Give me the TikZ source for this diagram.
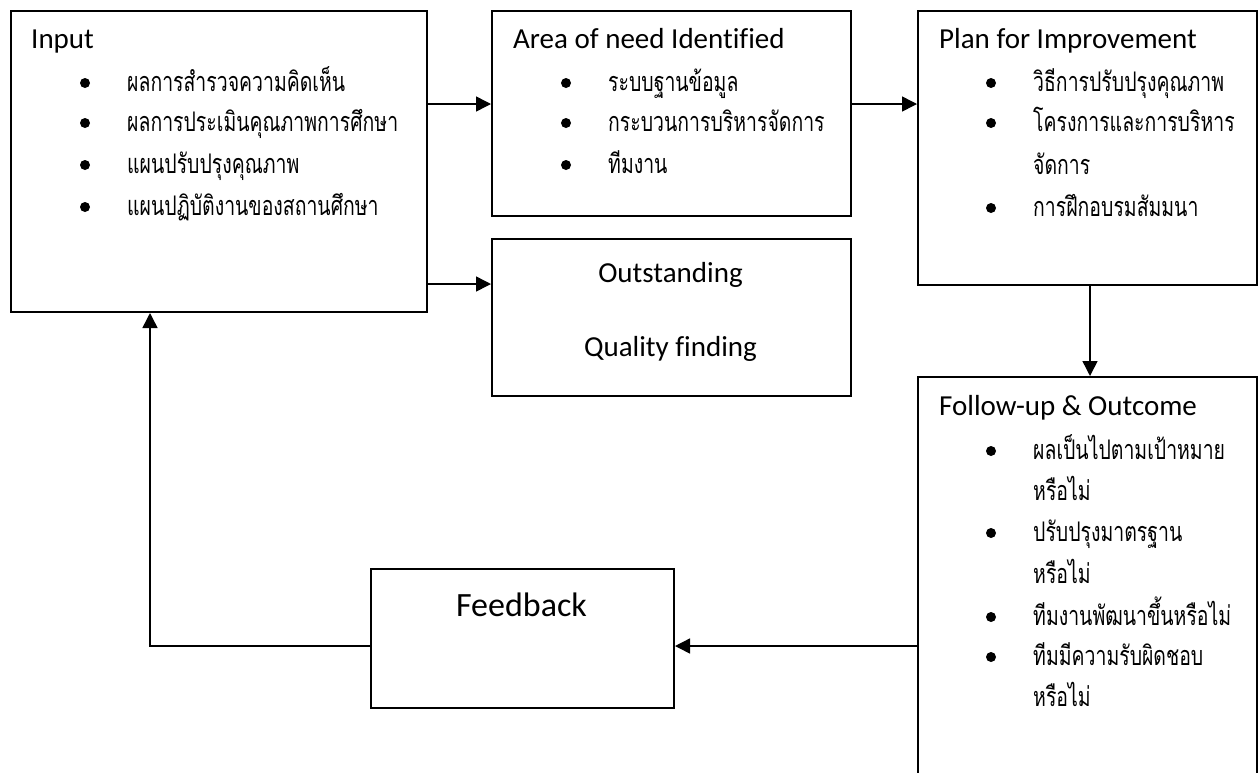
\documentclass[tikz,border=0pt]{standalone}
\usepackage{fontspec}
\setmainfont[Ligatures=NoCommon]{Carlito}
\newfontfamily\thaifont[Script=Thai,FakeStretch=0.72]{Loma}
\usetikzlibrary{arrows.meta}
\begin{document}
\begin{tikzpicture}[x=1pt,y=-1pt,
  box/.style={draw,line width=2pt,anchor=north west,inner sep=0pt},
  arr/.style={line width=1.5pt,-{Triangle[length=15pt,width=15pt]}},
  head/.style={anchor=base west,inner sep=0pt,font=\fontsize{29}{31}\selectfont},
  ctext/.style={anchor=base,inner sep=0pt,font=\fontsize{29}{31}\selectfont},
  th/.style={anchor=base west,inner sep=0pt,font=\thaifont\fontsize{27}{30}\selectfont},
  dot/.style={circle,fill=black,inner sep=0pt,minimum size=10pt}]
\clip (0,0) rectangle (1260,772);
\fill[white] (0,0) rectangle (1260,772);
% boxes
\node[box,minimum width=416pt,minimum height=301pt] (input) at (10,10) {};
\node[box,minimum width=359pt,minimum height=205pt] (area) at (491,10) {};
\node[box,minimum width=359pt,minimum height=157pt] (outst) at (491,238) {};
\node[box,minimum width=339pt,minimum height=274pt] (plan) at (917,10) {};
\node[box,minimum width=339pt,minimum height=430pt] (follow) at (917,376) {};
\node[box,minimum width=303pt,minimum height=139pt] (feedback) at (370,568) {};
% Input
\node[head] (tIn) at (31,48) {Input};
\node[dot] (b1) at (85,83) {};  \node[th] (t1) at (127,91) {ผลการสำรวจความคิดเห็น};
\node[dot] (b2) at (85,123) {}; \node[th] (t2) at (127,131) {ผลการประเมินคุณภาพการศึกษา};
\node[dot] (b3) at (85,165) {}; \node[th] (t3) at (127,173) {แผนปรับปรุงคุณภาพ};
\node[dot] (b4) at (85,207) {}; \node[th] (t4) at (127,215) {แผนปฏิบัติงานของสถานศึกษา};
% Area
\node[head] (tAr) at (513,48) {Area of need Identified};
\node[dot] (b5) at (566,83) {};  \node[th] (t5) at (608,91) {ระบบฐานข้อมูล};
\node[dot] (b6) at (566,123) {}; \node[th] (t6) at (608,131) {กระบวนการบริหารจัดการ};
\node[dot] (b7) at (566,165) {}; \node[th] (t7) at (608,173) {ทีมงาน};
% Outstanding
\node[ctext] (tO1) at (670.5,282) {Outstanding};
\node[ctext] (tO2) at (670.5,356) {Quality finding};
% Plan
\node[head] (tPl) at (939,48) {Plan for Improvement};
\node[dot] (b8) at (991,83) {};  \node[th] (t8) at (1033,91) {วิธีการปรับปรุงคุณภาพ};
\node[dot] (b9) at (991,123) {}; \node[th] (t9) at (1033,131) {โครงการและการบริหาร};
\node[th] (t9b) at (1033,174) {จัดการ};
\node[dot] (b10) at (991,208) {}; \node[th] (t10) at (1033,216) {การฝึกอบรมสัมมนา};
% Follow-up
\node[head] (tFo) at (939,415) {Follow-up \& Outcome};
\node[dot] (b11) at (991,451) {}; \node[th] (t11) at (1033,459) {ผลเป็นไปตามเป้าหมาย};
\node[th] (t11b) at (1033,500) {หรือไม่};
\node[dot] (b12) at (991,533) {}; \node[th] (t12) at (1033,541) {ปรับปรุงมาตรฐาน};
\node[th] (t12b) at (1033,583) {หรือไม่};
\node[dot] (b13) at (991,617) {}; \node[th] (t13) at (1033,625) {ทีมงานพัฒนาขึ้นหรือไม่};
\node[dot] (b14) at (991,657) {}; \node[th] (t14) at (1033,665) {ทีมมีความรับผิดชอบ};
\node[th] (t14b) at (1033,706) {หรือไม่};
% Feedback
\node[ctext,font=\fontsize{34}{36}\selectfont] (tFb) at (521.5,616) {Feedback};
% connectors
\draw[arr] ([yshift=-94pt]input.north east) -- ([yshift=-94pt]area.north west);
\draw[arr] ([yshift=-274pt]input.north east) -- ([yshift=-46pt]outst.north west);
\draw[arr] ([yshift=-94pt]area.north east) -- ([yshift=-94pt]plan.north west);
\draw[arr] ([xshift=2.5pt]plan.south) -- ([xshift=2.5pt]plan.south |- follow.north);
\draw[arr] ([yshift=-270pt]follow.north west) -- ([yshift=-78pt]feedback.north east);
\draw[arr] ([yshift=-78pt]feedback.north west) -| ([xshift=140pt]input.south west);
\end{tikzpicture}
\end{document}
